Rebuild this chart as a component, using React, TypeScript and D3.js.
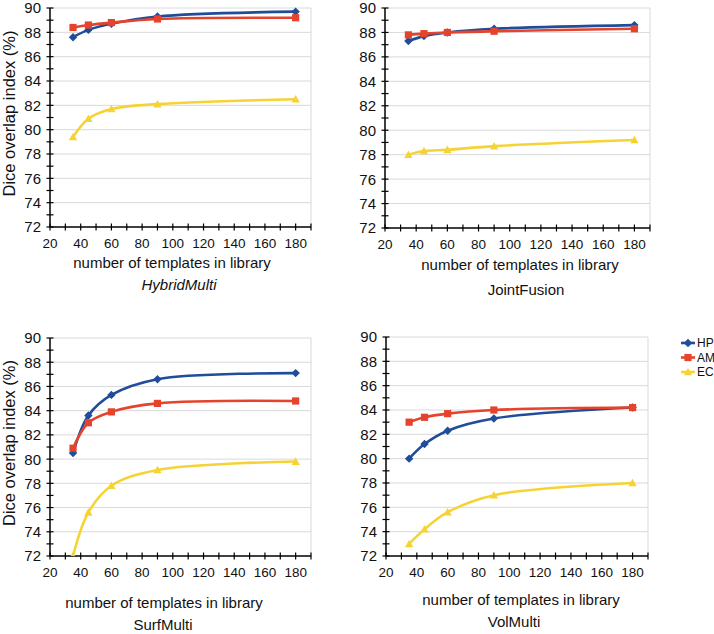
import React from "react";
import * as d3 from "d3";

const templates = [35, 45, 60, 90, 180];
const seriesNames = ["HP", "AM", "EC"];
const panelTitles = ["HybridMulti", "JointFusion", "SurfMulti", "VolMulti"];

const hybridHP = [87.6, 88.2, 88.7, 89.3, 89.7];
const hybridAM = [88.4, 88.6, 88.8, 89.1, 89.2];
const hybridEC = [79.4, 80.9, 81.7, 82.1, 82.5];

const jointHP = [87.3, 87.7, 88.0, 88.3, 88.6];
const jointAM = [87.8, 87.9, 88.0, 88.1, 88.3];
const jointEC = [78.0, 78.3, 78.4, 78.7, 79.2];

const surfHP = [80.5, 83.6, 85.3, 86.6, 87.1];
const surfAM = [80.9, 83.0, 83.9, 84.6, 84.8];
const surfEC = [72.0, 75.6, 77.8, 79.1, 79.8];

const volHP = [80.0, 81.2, 82.3, 83.3, 84.2];
const volAM = [83.0, 83.4, 83.7, 84.0, 84.2];
const volEC = [73.0, 74.2, 75.6, 77.0, 78.0];

const xTickLabels = [20, 40, 60, 80, 100, 120, 140, 160, 180];
const yTickLabels = [72, 74, 76, 78, 80, 82, 84, 86, 88, 90];

const colors = ["#1F4D99", "#E5432B", "#F6D335"];
const FONT = "'Liberation Sans', Arial, Helvetica, sans-serif";

const panelData = [
  [hybridHP, hybridAM, hybridEC],
  [jointHP, jointAM, jointEC],
  [surfHP, surfAM, surfEC],
  [volHP, volAM, volEC],
];

const layouts = [
  { left: 50, top: 8, right: 311, bottom: 227, xl: 172, xly: 268, st: 179, sty: 290, italic: true, ylab: true },
  { left: 385, top: 8, right: 650, bottom: 228, xl: 520, xly: 270, st: 526, sty: 295, italic: false, ylab: false },
  { left: 50, top: 338, right: 311, bottom: 556, xl: 164, xly: 608, st: 163, sty: 630, italic: false, ylab: true },
  { left: 386, top: 337, right: 648, bottom: 556, xl: 521, xly: 605, st: 514, sty: 627, italic: false, ylab: false },
];

function Marker({ type, x, y, color }: { type: number; x: number; y: number; color: string }) {
  if (type === 0) {
    const s = 4.2;
    return <path d={`M${x},${y - s}L${x + s},${y}L${x},${y + s}L${x - s},${y}Z`} fill={color} />;
  }
  if (type === 1) {
    const s = 3.6;
    return <rect x={x - s} y={y - s} width={2 * s} height={2 * s} fill={color} />;
  }
  const s = 4.2;
  return <path d={`M${x},${y - s}L${x + s},${y + s * 0.8}L${x - s},${y + s * 0.8}Z`} fill={color} />;
}

function Panel({ idx }: { idx: number }) {
  const L = layouts[idx];
  const x = d3.scaleLinear().domain([20, 190]).range([L.left, L.right]);
  const y = d3.scaleLinear().domain([72, 90]).range([L.bottom, L.top]);
  const line = d3
    .line<number>()
    .x((_, i) => x(templates[i]))
    .y((d) => y(d))
    .curve(d3.curveCatmullRom.alpha(0.5));
  const xMinor = d3.range(20, 191, 10);
  const yMinor = d3.range(72, 90.01, 1);
  const clipId = `clip${idx}`;
  return (
    <g>
      <defs>
        <clipPath id={clipId}>
          <rect x={L.left} y={L.top - 6} width={L.right - L.left + 6} height={L.bottom - L.top + 6} />
        </clipPath>
      </defs>
      {yTickLabels.slice(1).map((t) => (
        <line key={"g" + t} x1={L.left} x2={L.right} y1={y(t)} y2={y(t)} stroke="#d9d9d9" strokeWidth={1} />
      ))}
      <line x1={L.right} x2={L.right} y1={L.top} y2={L.bottom} stroke="#d9d9d9" strokeWidth={1} />
      <line x1={L.left} x2={L.left} y1={L.top} y2={L.bottom} stroke="#000" strokeWidth={1.5} />
      <line x1={L.left} x2={L.right} y1={L.bottom} y2={L.bottom} stroke="#000" strokeWidth={1.5} />
      {yMinor.map((t) => (
        <line key={"yt" + t} x1={L.left - 3.5} x2={L.left + 3.5} y1={y(t)} y2={y(t)} stroke="#000" strokeWidth={1.2} />
      ))}
      {xMinor.map((t) => (
        <line key={"xt" + t} x1={x(t)} x2={x(t)} y1={L.bottom - 3.5} y2={L.bottom + 3.5} stroke="#000" strokeWidth={1.2} />
      ))}
      {yTickLabels.map((t) => (
        <text key={"yl" + t} x={L.left - 9} y={y(t)} dy="0.36em" textAnchor="end" fontSize={15} fontFamily={FONT} fill="#111">
          {t}
        </text>
      ))}
      {xTickLabels.map((t) => (
        <text key={"xl" + t} x={x(t)} y={L.bottom + 21} textAnchor="middle" fontSize={13.5} fontFamily={FONT} fill="#111">
          {t}
        </text>
      ))}
      <text x={L.xl} y={L.xly} textAnchor="middle" fontSize={15} fontFamily={FONT} fill="#111">
        number of templates in library
      </text>
      <text x={L.st} y={L.sty} textAnchor="middle" fontSize={15} fontFamily={FONT} fontStyle={L.italic ? "italic" : "normal"} fill="#111">
        {panelTitles[idx]}
      </text>
      {L.ylab && (
        <text
          transform={`translate(${L.left - 35},${(L.top + L.bottom) / 2 - 4}) rotate(-90)`}
          textAnchor="middle"
          fontSize={16.5}
          fontFamily={FONT}
          fill="#111"
        >
          Dice overlap index (%)
        </text>
      )}
      <g clipPath={`url(#${clipId})`}>
        {panelData[idx].map((vals, si) => (
          <g key={"s" + si}>
            <path d={line(vals) || ""} fill="none" stroke={colors[si]} strokeWidth={2.6} />
            {vals.map((v, i) => (
              <Marker key={i} type={si} x={x(templates[i])} y={y(v)} color={colors[si]} />
            ))}
          </g>
        ))}
      </g>
    </g>
  );
}

export default function App() {
  return (
    <svg
      width={714}
      height={634}
      style={{ position: "absolute", left: 0, top: 0, background: "#fff" }}
    >
      <rect x={0} y={0} width={714} height={634} fill="#fff" />
      {[0, 1, 2, 3].map((i) => (
        <Panel key={i} idx={i} />
      ))}
      {seriesNames.map((s, i) => (
        <g key={s}>
          <line x1={681} x2={695} y1={343 + i * 14.5} y2={343 + i * 14.5} stroke={colors[i]} strokeWidth={2.6} />
          <Marker type={i} x={688} y={343 + i * 14.5} color={colors[i]} />
          <text x={697} y={343 + i * 14.5} dy="0.36em" fontSize={12} fontFamily={FONT} fill="#111">
            {s}
          </text>
        </g>
      ))}
    </svg>
  );
}
